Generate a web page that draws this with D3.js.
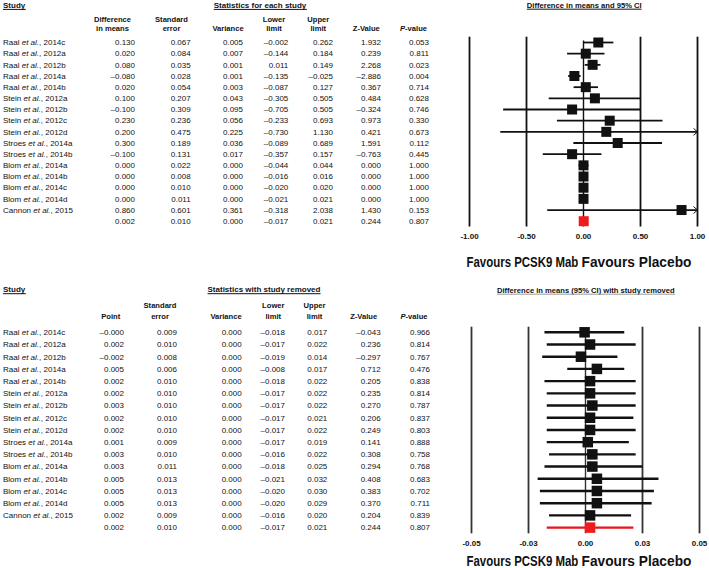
<!DOCTYPE html>
<html>
<head>
<meta charset="utf-8">
<script src="https://cdn.jsdelivr.net/npm/d3@7/dist/d3.min.js"></script>
<style>
html,body{margin:0;padding:0;background:#fff;}
svg{display:block;font-family:"Liberation Sans",Arial,sans-serif;}
</style>
</head>
<body>
<svg id="chart" width="709" height="568"></svg>
<script>
// ---------- data ----------
const studyAuthors = ["Raal","Raal","Raal","Raal","Raal","Stein","Stein","Stein","Stein","Stroes","Stroes","Blom","Blom","Blom","Blom","Cannon"];
const studyYears   = ["2014c","2012a","2012b","2014a","2014b","2012a","2012b","2012c","2012d","2014a","2014b","2014a","2014b","2014c","2014d","2015"];

// Statistics for each study
const diffMeans  = [0.130,0.020,0.080,-0.080,0.020,0.100,-0.100,0.230,0.200,0.300,-0.100,0.000,0.000,0.000,0.000,0.860];
const stdErr     = [0.067,0.084,0.035,0.028,0.054,0.207,0.309,0.236,0.475,0.189,0.131,0.022,0.008,0.010,0.011,0.601];
const varianceV  = [0.005,0.007,0.001,0.001,0.003,0.043,0.095,0.056,0.225,0.036,0.017,0.000,0.000,0.000,0.000,0.361];
const lowerLimit = [-0.002,-0.144,0.011,-0.135,-0.087,-0.305,-0.705,-0.233,-0.730,-0.089,-0.357,-0.044,-0.016,-0.020,-0.021,-0.318];
const upperLimit = [0.262,0.184,0.149,-0.025,0.127,0.505,0.505,0.693,1.130,0.689,0.157,0.044,0.016,0.020,0.021,2.038];
const zValue     = [1.932,0.239,2.268,-2.886,0.367,0.484,-0.324,0.973,0.421,1.591,-0.763,0.000,0.000,0.000,0.000,1.430];
const pValue     = [0.053,0.811,0.023,0.004,0.714,0.628,0.746,0.330,0.673,0.112,0.445,1.000,1.000,1.000,1.000,0.153];
const summaryTop = [0.002,0.010,0.000,-0.017,0.021,0.244,0.807]; // diff, se, var, lower, upper, z, p

// Statistics with study removed
const remPoint = [-0.0004,0.002,-0.002,0.005,0.002,0.002,0.003,0.002,0.002,0.001,0.003,0.003,0.005,0.005,0.005,0.002];
const remSE    = [0.009,0.010,0.008,0.006,0.010,0.010,0.010,0.010,0.010,0.009,0.010,0.011,0.013,0.013,0.013,0.009];
const remVar   = [0.000,0.000,0.000,0.000,0.000,0.000,0.000,0.000,0.000,0.000,0.000,0.000,0.000,0.000,0.000,0.000];
const remLower = [-0.018,-0.017,-0.019,-0.008,-0.018,-0.017,-0.017,-0.017,-0.017,-0.017,-0.016,-0.018,-0.021,-0.020,-0.020,-0.016];
const remUpper = [0.017,0.022,0.014,0.017,0.022,0.022,0.022,0.021,0.022,0.019,0.022,0.025,0.032,0.030,0.029,0.020];
const remZ     = [-0.043,0.236,-0.297,0.712,0.205,0.235,0.270,0.206,0.249,0.141,0.308,0.294,0.408,0.383,0.370,0.204];
const remP     = [0.966,0.814,0.767,0.476,0.838,0.814,0.787,0.837,0.803,0.888,0.758,0.768,0.683,0.702,0.711,0.839];
const summaryBottom = [0.002,0.010,0.000,-0.017,0.021,0.244,0.807];

// axes
const topTicks = [-1,-0.5,0,0.5,1];
const topTickLabels = ["-1.00","-0.50","0.00","0.50","1.00"];
const bottomTicks = [-0.05,-0.025,0,0.025,0.05];
const bottomTickLabels = ["-0.05","-0.03","0.00","0.03","0.05"];

const topHeaders = [["Difference","in means"],["Standard","error"],["","Variance"],["Lower","limit"],["Upper","limit"],["","Z-Value"],["","P-value"]];
const bottomHeaders = [["","Point"],["Standard","error"],["","Variance"],["Lower","limit"],["Upper","limit"],["","Z-Value"],["","P-value"]];

// ---------- drawing ----------
const svg = d3.select("#chart");
svg.append("rect").attr("width",709).attr("height",568).attr("fill","#fff");
const FONT = 8;
const fmt = v => (v < 0 ? "\u2013" : "") + Math.abs(v).toFixed(3);

function underlinedText(x, y, txt, anchor, size, color) {
  const t = svg.append("text").attr("x", x).attr("y", y).attr("dy","0.35em")
    .attr("text-anchor", anchor).attr("font-size", size).attr("font-weight","bold")
    .attr("fill","#111").text(txt);
  const b = t.node().getBBox();
  svg.append("line").attr("x1", b.x).attr("x2", b.x + b.width)
    .attr("y1", y + size*0.55).attr("y2", y + size*0.55)
    .attr("stroke", color || "#111").attr("stroke-width", 1);
}

// text squeezed horizontally to a given width, starting at x
function squeezedText(x, y, txt, size, width) {
  const t = svg.append("text").attr("x", 0).attr("y", 0).attr("dy","0.35em")
    .attr("text-anchor","start").attr("font-size", size).attr("font-weight","bold")
    .attr("fill","#111").text(txt);
  const w = t.node().getComputedTextLength();
  t.attr("transform", `translate(${x},${y}) scale(${width / w},1)`);
}

function drawSection(cfg) {
  const rowY = d3.scaleLinear().domain([0,16]).range(cfg.rowRange);
  // titles
  underlinedText(3, cfg.titleY, "Study", "start", 8);
  underlinedText(cfg.statsTitleX, cfg.titleY, cfg.statsTitle, "middle", 8);
  underlinedText(cfg.plotTitleX, cfg.titleY + cfg.plotTitleDy, cfg.plotTitle, "middle", 7.6, cfg.plotTitleLine);

  // column headers
  cfg.headers.forEach((h, j) => {
    h.forEach((line, k) => {
      if (!line) return;
      const t = svg.append("text").attr("x", cfg.headerX[j]).attr("y", cfg.headerY[k])
        .attr("dy","0.35em").attr("text-anchor","middle").attr("font-size",7.6)
        .attr("font-weight","bold").attr("fill","#111");
      if (line === "P-value") {
        t.append("tspan").attr("font-style","italic").text("P");
        t.append("tspan").text("-value");
      } else t.text(line);
    });
  });

  // study names
  studyAuthors.forEach((a, i) => {
    const t = svg.append("text").attr("x", 3).attr("y", rowY(i)).attr("dy","0.35em")
      .attr("font-size", FONT).attr("fill","#111");
    t.append("tspan").text(a + " ");
    t.append("tspan").attr("font-style","italic").text("et al.");
    t.append("tspan").text(", " + studyYears[i]);
  });

  // numbers
  cfg.columns.forEach((col, j) => {
    const vals = col.concat([cfg.summary[j]]);
    svg.append("g").selectAll("text").data(vals).join("text")
      .attr("x", cfg.colRight[j]).attr("y", (d, i) => rowY(i)).attr("dy","0.35em")
      .attr("text-anchor","end").attr("font-size", FONT).attr("fill","#111")
      .text(fmt);
  });

  // forest plot
  const x = d3.scaleLinear().domain(cfg.domain).range(cfg.xRange);
  const g = svg.append("g");
  g.selectAll("line.grid").data(cfg.ticks).join("line")
    .attr("x1", d => x(d)).attr("x2", d => x(d))
    .attr("y1", d => d === 0 ? rowY(0) - 2 : cfg.gridTop)
    .attr("y2", cfg.gridBottom)
    .attr("stroke", cfg.gridColor)
    .attr("stroke-width", d => d === 0 ? 1.4 : 1.8);
  g.selectAll("text.tick").data(cfg.ticks).join("text")
    .attr("x", d => x(d)).attr("y", cfg.tickY).attr("dy","0.35em")
    .attr("text-anchor","middle").attr("font-size", 8).attr("font-weight","bold")
    .attr("fill","#111").text((d, i) => cfg.tickLabels[i]);

  const [dmin, dmax] = cfg.domain;
  const pts = cfg.point.map((p, i) => ({p, lo: cfg.lower[i], hi: cfg.upper[i], i, red: false}));
  pts.push({p: cfg.summary[0], lo: cfg.summary[3], hi: cfg.summary[4], i: 16, red: true});

  g.selectAll("line.ci").data(pts).join("line")
    .attr("x1", d => x(Math.max(d.lo, dmin))).attr("x2", d => x(Math.min(d.hi, dmax)))
    .attr("y1", d => rowY(d.i)).attr("y2", d => rowY(d.i))
    .attr("stroke", d => d.red ? "#e8141b" : "#111").attr("stroke-width", cfg.ciWidth);
  g.selectAll("path.arrow").data(pts.filter(d => d.hi > dmax)).join("path")
    .attr("d", d => `M${x(dmax)-4},${rowY(d.i)-3.5}L${x(dmax)},${rowY(d.i)}L${x(dmax)-4},${rowY(d.i)+3.5}`)
    .attr("fill","none").attr("stroke","#111").attr("stroke-width",1);
  const s = cfg.sq;
  g.selectAll("rect.sq").data(pts).join("rect")
    .attr("x", d => x(d.p) - s/2).attr("y", d => rowY(d.i) - s/2)
    .attr("width", s).attr("height", s)
    .attr("fill", d => d.red ? "#ee1c1c" : "#111");

  // favours labels
  squeezedText(cfg.favX - 115, cfg.favY, "Favours PCSK9 Mab", 15, 112);
  squeezedText(cfg.favX, cfg.favY, "Favours Placebo", 15, 110);
}

drawSection({
  rowRange: [42.5, 221.2],
  titleY: 5, plotTitleDy: 0,
  statsTitle: "Statistics for each study", statsTitleX: 260,
  plotTitle: "Difference in means and 95% CI", plotTitleX: 584.2, plotTitleLine: "#111",
  headers: topHeaders, headerY: [19, 28.7],
  headerX: [112.5, 171.5, 228, 274, 318.3, 366.3, 413.5],
  colRight: [135, 190.7, 243, 288.3, 333, 381, 429],
  columns: [diffMeans, stdErr, varianceV, lowerLimit, upperLimit, zValue, pValue],
  summary: summaryTop,
  domain: [-1, 1], xRange: [469.5, 697.5],
  ticks: topTicks, tickLabels: topTickLabels,
  point: diffMeans, lower: lowerLimit, upper: upperLimit,
  gridTop: 36.7, gridBottom: 226.5, gridColor: "#111", tickY: 236,
  ciWidth: 1.8, sq: 10,
  favX: 581.5, favY: 261.7
});

drawSection({
  rowRange: [332.3, 527.6],
  titleY: 289.3, plotTitleDy: 0.7,
  statsTitle: "Statistics with study removed", statsTitleX: 264,
  plotTitle: "Difference in means (95% CI) with study removed", plotTitleX: 585.8, plotTitleLine: "#999",
  headers: bottomHeaders, headerY: [305, 316.7],
  headerX: [110.8, 160, 226, 273.3, 314.5, 363.7, 414],
  colRight: [124, 177, 241.7, 285, 327.3, 380.7, 430],
  columns: [remPoint, remSE, remVar, remLower, remUpper, remZ, remP],
  summary: summaryBottom,
  domain: [-0.05, 0.05], xRange: [471.5, 699.5],
  ticks: bottomTicks, tickLabels: bottomTickLabels,
  point: remPoint, lower: remLower, upper: remUpper,
  gridTop: 326.7, gridBottom: 533.3, gridColor: "#333", tickY: 543.3,
  ciWidth: 2.4, sq: 10.5,
  favX: 581.5, favY: 560.7
});
</script>
</body>
</html>
